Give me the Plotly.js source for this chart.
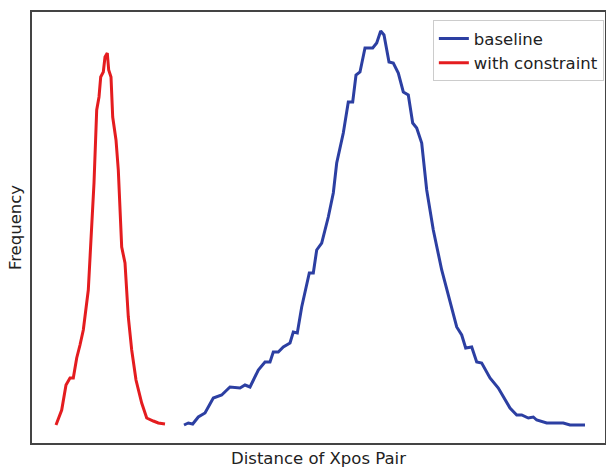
<!DOCTYPE html>
<html>
<head>
<meta charset="utf-8">
<script src="https://cdn.plot.ly/plotly-3.0.1.min.js"></script>
<style>html,body{margin:0;padding:0;background:#fff;}#chart{width:606px;height:468px;}</style>
</head>
<body>
<div id="chart"></div>
<script>
// Distance (arbitrary units) and frequency (arbitrary units)
var constraintX = [56, 61.7, 66, 70, 73.3, 76.7, 80, 83.3, 88.3, 91.7, 94, 96.7, 99, 100.7, 103.3, 105, 107.3, 108.7, 111, 112.7, 116, 118.3, 121.7, 125, 128.3, 131.7, 136, 141.7, 146.7, 153.3, 158.3, 165];
var constraintY = [18, 33, 58, 65, 65, 85, 98, 113, 153, 213, 260, 333, 346, 366, 371, 386, 390, 373, 366, 326, 303, 273, 196, 180, 126, 93, 63, 40, 25, 22, 20, 19];

var baselineX = [184, 188.3, 192.7, 198.3, 205, 213.3, 221.7, 230, 240, 245, 250, 258.3, 265, 270, 273.3, 278.3, 283.3, 290, 293.3, 297.3, 301.7, 309.3, 313.3, 316.7, 321.7, 328.3, 333.3, 336.7, 343.3, 348.3, 352.7, 356, 360, 365, 372.7, 376.7, 380.7, 384, 389, 393.3, 398.3, 403.3, 408.3, 412.7, 416.7, 421.7, 426.7, 433.3, 441.7, 450, 456.7, 461.7, 465.7, 471.7, 476.7, 481.7, 490, 498.3, 503.3, 510, 516.7, 521.7, 528.3, 533.3, 536.7, 546.7, 556.7, 563.3, 570, 585];
var baselineY = [18, 20, 19, 26, 30, 45, 48, 56, 55, 58, 56, 73, 81, 81, 91, 91, 96, 100, 111, 110, 136, 170, 170, 193, 200, 226, 250, 280, 310, 341, 341, 368, 371, 395, 395, 400, 412, 408, 381, 380, 370, 351, 348, 320, 315, 300, 253, 213, 173, 140, 116, 108, 95, 96, 81, 80, 65, 55, 46, 35, 28, 28, 25, 26, 23, 20, 20, 20, 18, 18];

var seriesNames = ['baseline', 'with constraint'];

var traces = [
  {x: baselineX, y: baselineY, name: seriesNames[0], type: 'scatter', mode: 'lines',
   line: {color: '#2c3fa2', width: 3}},
  {x: constraintX, y: constraintY, name: seriesNames[1], type: 'scatter', mode: 'lines',
   line: {color: '#e41c1f', width: 3}}
];

var font = {family: 'DejaVu Sans, sans-serif', size: 16.5, color: '#222'};

var layout = {
  width: 606, height: 468,
  margin: {l: 32, r: 1, t: 12, b: 25},
  paper_bgcolor: '#fff', plot_bgcolor: '#fff',
  font: font,
  showlegend: true,
  legend: {x: 0.998, xanchor: 'right', y: 0.981, yanchor: 'top',
           bgcolor: '#fff', bordercolor: '#ccc', borderwidth: 1, tracegroupgap: 0,
           font: {family: 'DejaVu Sans, sans-serif', size: 16.5, color: '#222'}},
  xaxis: {range: [32, 605], showgrid: false, zeroline: false, showticklabels: false, ticks: '',
          showline: true, mirror: true, linecolor: '#444', linewidth: 2,
          title: {text: 'Distance of Xpos Pair', font: font, standoff: 9}},
  yaxis: {range: [0, 431], showgrid: false, zeroline: false, showticklabels: false, ticks: '',
          showline: true, mirror: true, linecolor: '#444', linewidth: 2,
          title: {text: 'Frequency', font: font, standoff: 4}}
};

Plotly.newPlot('chart', traces, layout, {displayModeBar: false, staticPlot: true});
</script>
</body>
</html>
